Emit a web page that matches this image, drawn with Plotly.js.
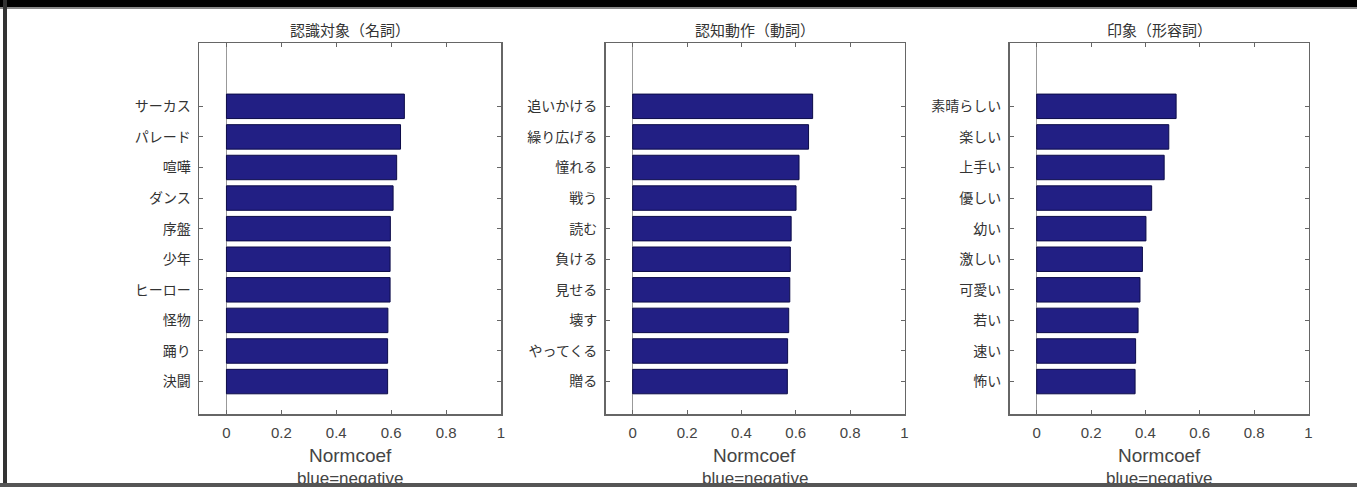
<!DOCTYPE html>
<html>
<head>
<meta charset="utf-8">
<script src="https://cdn.plot.ly/plotly-3.0.1.min.js"></script>
<style>
  html, body { margin: 0; padding: 0; background: #fff; }
  #wrap { position: relative; width: 1357px; height: 487px; overflow: hidden; }
  #chart { position: absolute; left: 0; top: 0; width: 1357px; height: 487px; }
  .frame { position: absolute; pointer-events: none; }
</style>
</head>
<body>
<div id="wrap">
  <div id="chart"></div>
  <div class="frame" style="left:0;top:0;width:1357px;height:7px;background:#000;"></div>
  <div class="frame" style="left:0;top:7px;width:1357px;height:2px;background:#888;"></div>
  <div class="frame" style="left:3px;top:0;width:4px;height:487px;background:#333;"></div>
  <div class="frame" style="left:0;top:483px;width:1357px;height:4px;background:#555;"></div>
</div>
<script>
// ---- data (top to bottom as shown) ----
const titles = ["認識対象（名詞）", "認知動作（動詞）", "印象（形容詞）"];

const nounLabels = ["サーカス", "パレード", "喧嘩", "ダンス", "序盤", "少年", "ヒーロー", "怪物", "踊り", "決闘"];
const nounValues = [0.648, 0.634, 0.620, 0.607, 0.597, 0.596, 0.596, 0.588, 0.587, 0.587];

const verbLabels = ["追いかける", "繰り広げる", "憧れる", "戦う", "読む", "負ける", "見せる", "壊す", "やってくる", "贈る"];
const verbValues = [0.662, 0.647, 0.612, 0.601, 0.583, 0.580, 0.578, 0.574, 0.570, 0.569];

const adjLabels = ["素晴らしい", "楽しい", "上手い", "優しい", "幼い", "激しい", "可愛い", "若い", "速い", "怖い"];
const adjValues = [0.513, 0.486, 0.469, 0.423, 0.402, 0.389, 0.380, 0.373, 0.364, 0.362];

const xTickVals = [0, 0.2, 0.4, 0.6, 0.8, 1];
const xTickText = ["0", "0.2", "0.4", "0.6", "0.8", "1"];
const xTitle = "Normcoef";
const xSubTitle = "blue=negative";

// ---- layout geometry ----
const W = 1357, H = 487;
const px = [[199, 501], [605.5, 904.5], [1009.5, 1308.5]];
const yTop = 43, yBot = 414;
const yDomain = [1 - yBot / H, 1 - yTop / H];

const barFill = "#221f84";
const barEdge = "#0c0b48";
const textColor = "#333";
const cjk = "'Noto Sans CJK JP', 'Noto Sans', sans-serif";
const latin = "'Liberation Sans', Arial, sans-serif";

const sets = [[nounLabels, nounValues], [verbLabels, verbValues], [adjLabels, adjValues]];

const data = sets.map((s, i) => ({
  type: "bar",
  orientation: "h",
  x: s[1],
  y: s[0],
  xaxis: i === 0 ? "x" : "x" + (i + 1),
  yaxis: i === 0 ? "y" : "y" + (i + 1),
  width: 0.8,
  marker: { color: barFill, line: { color: barEdge, width: 1 } },
  hoverinfo: "x+y"
}));

const layout = {
  width: W, height: H,
  margin: { l: 0, r: 0, t: 0, b: 0 },
  paper_bgcolor: "#fff",
  plot_bgcolor: "#fff",
  showlegend: false,
  bargap: 0.2,
  annotations: [],
  font: { family: cjk, color: textColor }
};

px.forEach((p, i) => {
  const xs = i === 0 ? "" : String(i + 1);
  layout["xaxis" + xs] = {
    domain: [p[0] / W, p[1] / W],
    anchor: "y" + xs,
    range: [-0.1, 1],
    tickvals: xTickVals,
    ticktext: xTickText,
    ticks: "inside",
    ticklen: 4,
    tickcolor: "#666",
    mirror: "ticks",
    showline: true,
    linecolor: "#666",
    linewidth: 1.5,
    showgrid: false,
    zeroline: true,
    zerolinecolor: "#999",
    zerolinewidth: 1,
    tickfont: { family: latin, size: 15, color: "#444" },
    ticklabelstandoff: 4,
    fixedrange: true
  };
  layout["yaxis" + xs] = {
    domain: yDomain,
    anchor: "x" + xs,
    type: "category",
    range: [10.06, -2.07],
    ticks: "inside",
    ticklen: 4,
    tickcolor: "#666",
    mirror: "ticks",
    showline: true,
    linecolor: "#666",
    linewidth: 1.5,
    showgrid: false,
    zeroline: false,
    tickfont: { family: cjk, size: 14, color: textColor },
    ticklabelstandoff: 4,
    fixedrange: true
  };
  const cx = ((p[0] + p[1]) / 2) / W;
  layout.annotations.push({
    text: titles[i], xref: "paper", yref: "paper",
    x: cx, y: 1 - 29 / H, xanchor: "center", yanchor: "middle",
    showarrow: false, font: { family: cjk, size: 15, color: textColor }
  });
  layout.annotations.push({
    text: xTitle, xref: "paper", yref: "paper",
    x: cx, y: 1 - 455 / H, xanchor: "center", yanchor: "middle",
    showarrow: false, font: { family: latin, size: 19, color: "#444" }
  });
  layout.annotations.push({
    text: xSubTitle, xref: "paper", yref: "paper",
    x: cx, y: 1 - 478 / H, xanchor: "center", yanchor: "middle",
    showarrow: false, font: { family: latin, size: 17, color: "#444" }
  });
});

Plotly.newPlot("chart", data, layout, { displayModeBar: false, staticPlot: true });
</script>
</body>
</html>
